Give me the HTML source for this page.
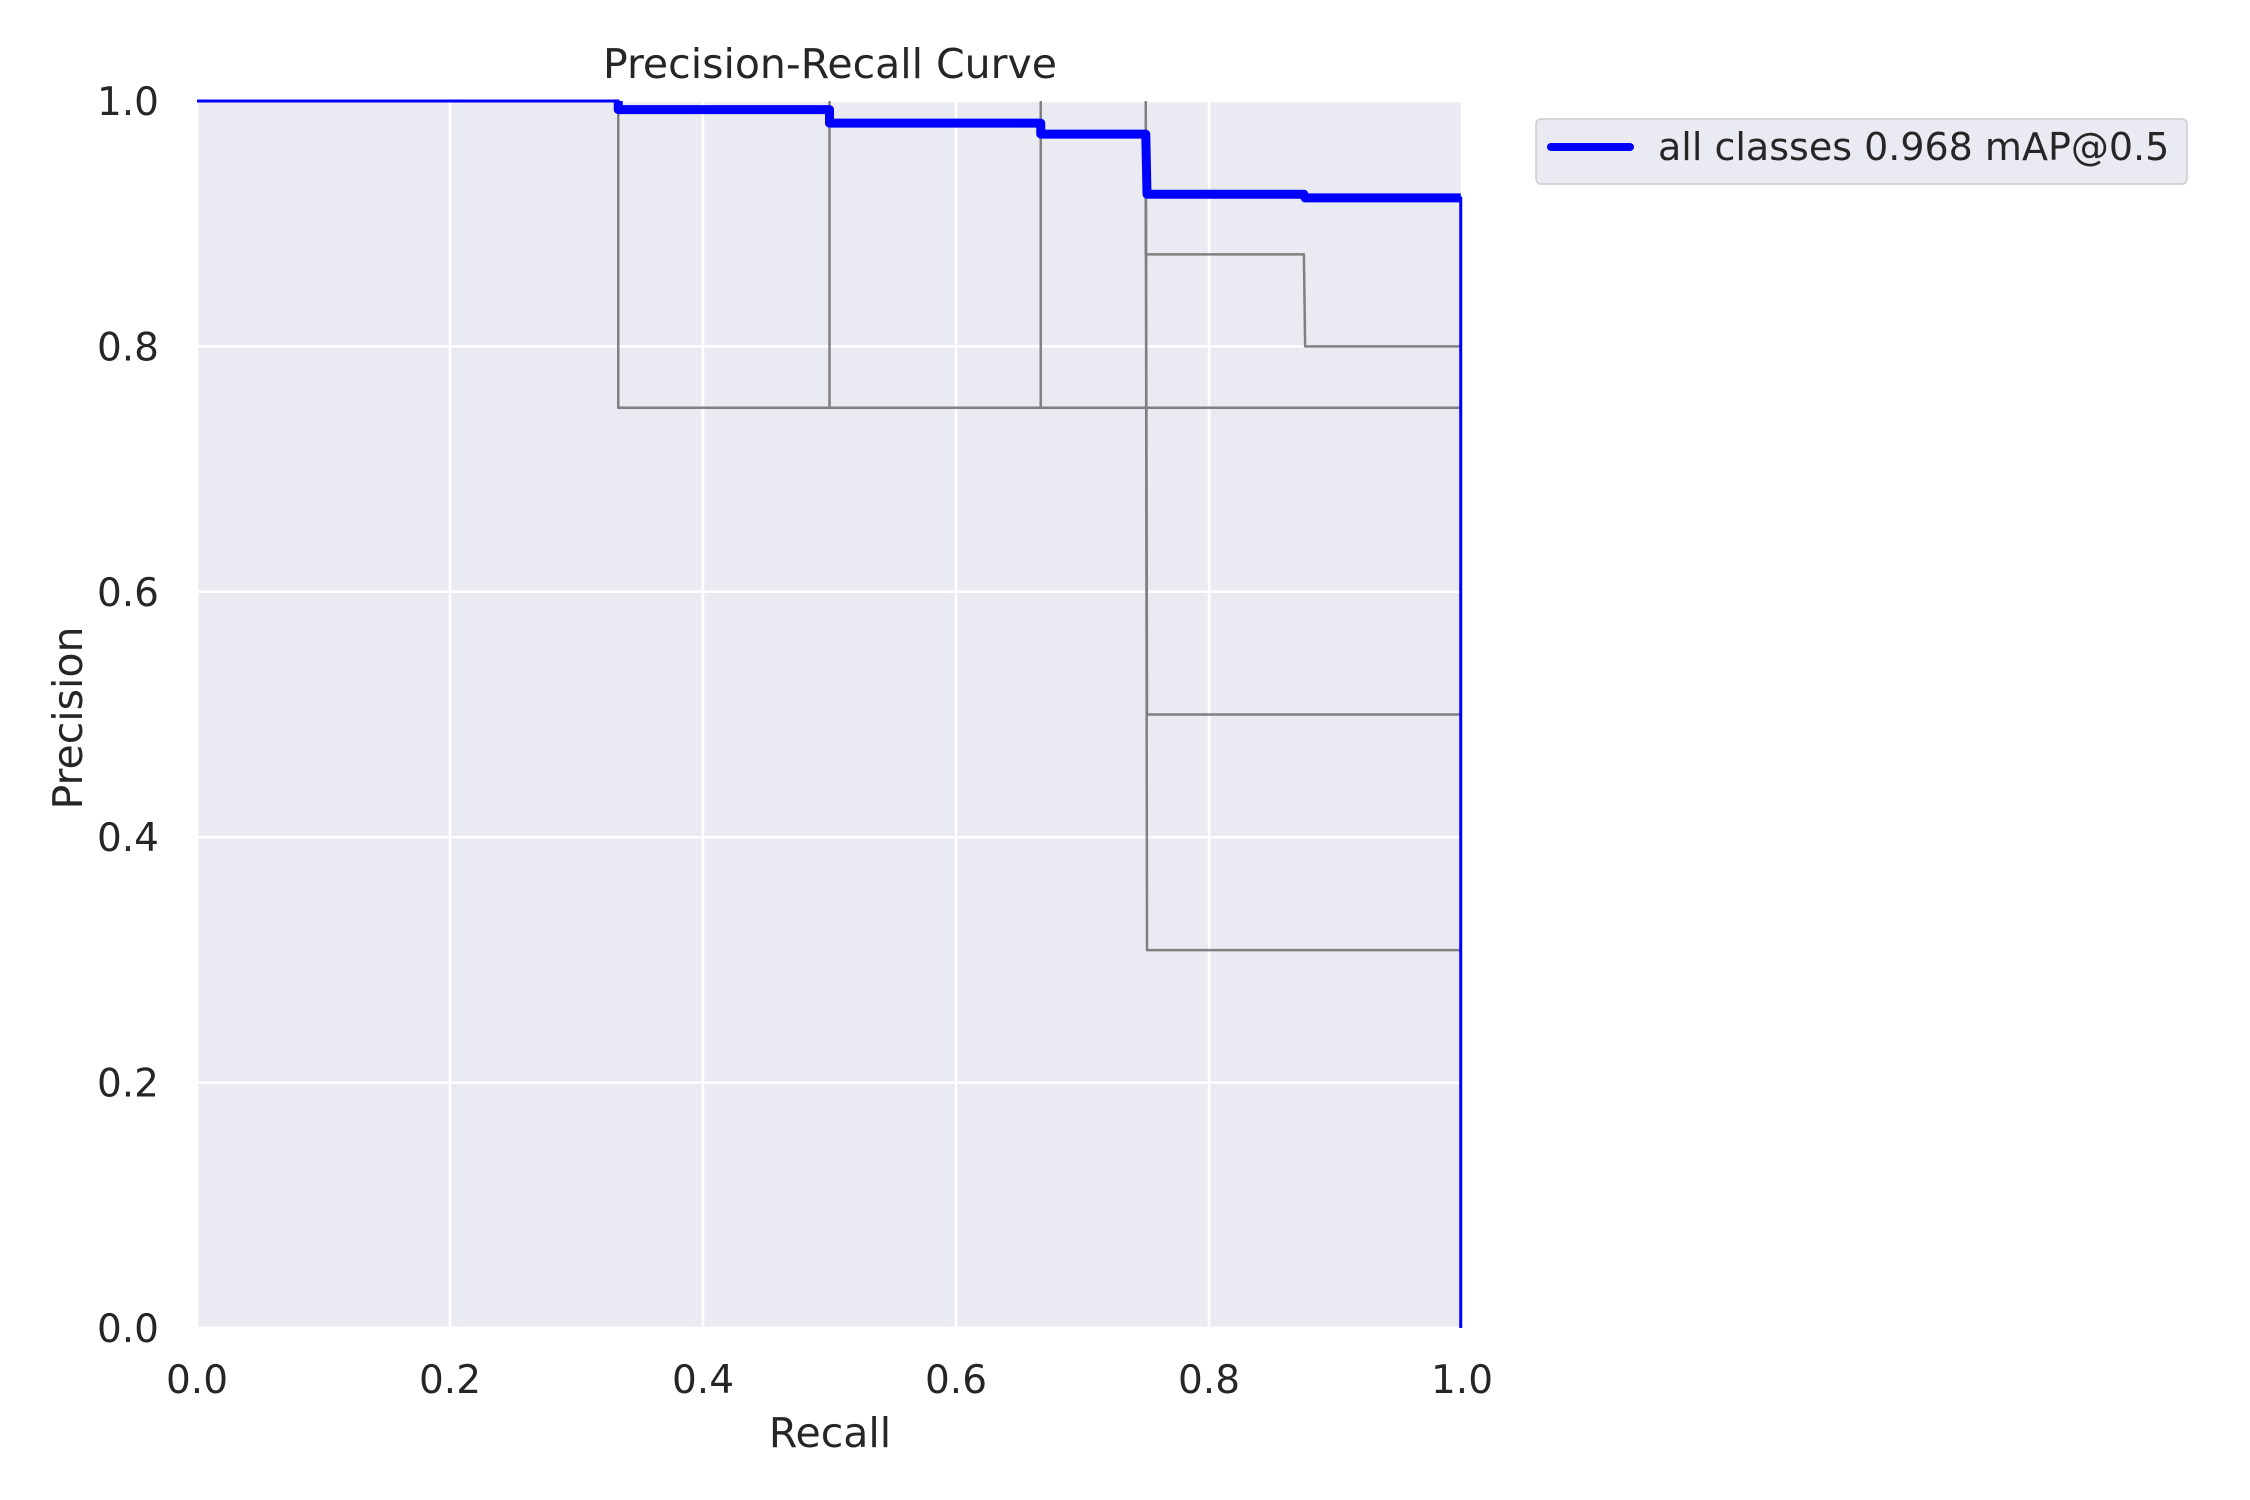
<!DOCTYPE html>
<html><head><meta charset="utf-8"><style>body{margin:0;background:#fff}svg{display:block}text{font-family:"DejaVu Sans","Liberation Sans",sans-serif;fill:#262626}</style></head>
<body>
<svg id="chart" width="2250" height="1500" viewBox="0 0 2250 1500">
<rect x="197" y="101" width="1265" height="1227" fill="#eaeaf2"/>
<g id="grid"></g>
<g id="series"></g>
<g id="ticks"></g>
<text x="830" y="78" font-size="41" text-anchor="middle">Precision-Recall Curve</text>
<text x="830" y="1447" font-size="41" text-anchor="middle">Recall</text>
<text x="0" y="0" font-size="41" text-anchor="middle" transform="translate(82,718) rotate(-90)">Precision</text>
<g>
<rect x="1536" y="119" width="651" height="65" rx="5" fill="#eaeaf2" stroke="#cccccc" stroke-width="1.5"/>
<line x1="1551" y1="147" x2="1630" y2="147" stroke="#0000ff" stroke-width="8" stroke-linecap="round"/>
<text x="1658" y="160" font-size="38">all classes 0.968 mAP@0.5</text>
</g>
</svg>
<script>
const xTicks=[0,0.2,0.4,0.6,0.8,1.0];
const yTicks=[0,0.2,0.4,0.6,0.8,1.0];
const tickLabels=["0.0","0.2","0.4","0.6","0.8","1.0"];
const allRecall=[0,0.333,0.333,0.5,0.5,0.667,0.667,0.75,0.751,0.875,0.876,0.999,0.999];
const allPrecision=[1,1,0.993,0.993,0.982,0.982,0.973,0.973,0.924,0.924,0.921,0.921,0];
const classA_R=[0.333,0.333,0.999];const classA_P=[1,0.75,0.75];
const classB_R=[0.5,0.5,0.999];const classB_P=[1,0.75,0.75];
const classC_R=[0.667,0.667,0.999];const classC_P=[1,0.75,0.75];
const classD_R=[0.75,0.75,0.875,0.876,0.999];const classD_P=[1,0.875,0.875,0.8,0.8];
const classE_R=[0.75,0.751,0.999];const classE_P=[1,0.5,0.5];
const classF_R=[0.75,0.751,0.999];const classF_P=[1,0.308,0.308];
const NS="http://www.w3.org/2000/svg";
const X0=197,X1=1462,Y0=1328,Y1=101;
function sx(v){return X0+v*(X1-X0);}
function sy(v){return Y0-v*(Y0-Y1);}
const grid=document.getElementById('grid'),ticks=document.getElementById('ticks'),series=document.getElementById('series');
xTicks.forEach((t,i)=>{
 const l=document.createElementNS(NS,'line');
 l.setAttribute('x1',sx(t));l.setAttribute('x2',sx(t));l.setAttribute('y1',Y1);l.setAttribute('y2',Y0);
 l.setAttribute('stroke','#fff');l.setAttribute('stroke-width','2.5');
 
 
 grid.appendChild(l);
 const tx=document.createElementNS(NS,'text');
 tx.setAttribute('x',sx(t));tx.setAttribute('y',1393);tx.setAttribute('font-size','39');tx.setAttribute('text-anchor','middle');
 tx.textContent=tickLabels[i];
 
 
 ticks.appendChild(tx);
});
yTicks.forEach((t,i)=>{
 const l=document.createElementNS(NS,'line');
 l.setAttribute('x1',X0);l.setAttribute('x2',X1);l.setAttribute('y1',sy(t));l.setAttribute('y2',sy(t));
 l.setAttribute('stroke','#fff');l.setAttribute('stroke-width','2.5');
 
 
 grid.appendChild(l);
 const tx=document.createElementNS(NS,'text');
 tx.setAttribute('x',159);tx.setAttribute('y',sy(t)+14);tx.setAttribute('font-size','39');tx.setAttribute('text-anchor','end');
 tx.textContent=tickLabels[i];
 
 
 ticks.appendChild(tx);
});
function poly(R,P,color,w,name){
 const p=document.createElementNS(NS,'polyline');
 p.setAttribute('points',R.map((r,i)=>sx(r)+','+sy(P[i])).join(' '));
 p.setAttribute('fill','none');p.setAttribute('stroke',color);p.setAttribute('stroke-width',w);p.setAttribute('stroke-linejoin','round');
 
 
 series.appendChild(p);
}
poly(classA_R,classA_P,'#808080',2.5,'class-curve-a');
poly(classB_R,classB_P,'#808080',2.5,'class-curve-b');
poly(classC_R,classC_P,'#808080',2.5,'class-curve-c');
poly(classD_R,classD_P,'#808080',2.5,'class-curve-d');
poly(classE_R,classE_P,'#808080',2.5,'class-curve-e');
poly(classF_R,classF_P,'#808080',2.5,'class-curve-f');
poly(allRecall,allPrecision,'#0000ff',3,'all-classes-curve-thin');
poly(allRecall.slice(1,-1),allPrecision.slice(1,-1),'#0000ff',9,'all-classes-curve');
</script>
</body></html>
